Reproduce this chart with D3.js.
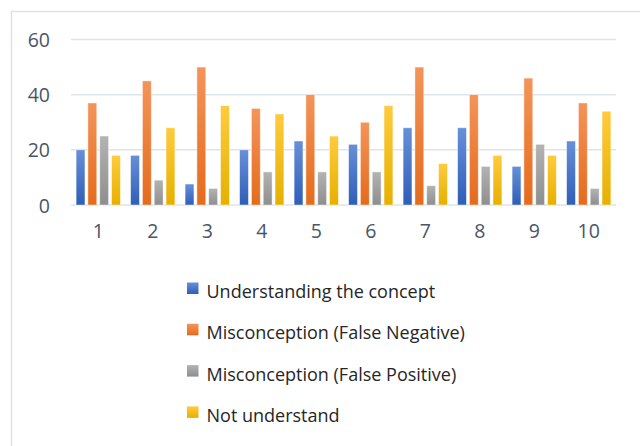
<!DOCTYPE html>
<html><head><meta charset="utf-8">
<script src="https://cdn.jsdelivr.net/npm/d3@7"></script>
<style>
html,body{margin:0;padding:0;background:#fff;}
svg{display:block;}
</style></head>
<body>
<script>
const categories = ["1","2","3","4","5","6","7","8","9","10"];
const seriesNames = ["Understanding the concept","Misconception (False Negative)","Misconception (False Positive)","Not understand"];
const understanding = [20,18,7.6,20,23.2,22,28,28,14,23.2];
const falseNegative = [37,45,50,35,40,30,50,40,46,37];
const falsePositive = [25,9,6,12,12,12,7,14,22,6];
const notUnderstand = [18,28,36,33,25,36,15,18,18,34];
const yTicks = [0,20,40,60];

const seriesValues = [understanding,falseNegative,falsePositive,notUnderstand];
const colors = [
  {top:"#6790d8", bot:"#2f5eb8"},
  {top:"#f4945a", bot:"#e56b1c"},
  {top:"#b3b3b3", bot:"#8e8e8e"},
  {top:"#ffcb3d", bot:"#e6b000"}
];

const W=640,H=446;
const svg=d3.select("body").append("svg").attr("width",W).attr("height",H);
const defs=svg.append("defs");
colors.forEach((c,i)=>{
  const g=defs.append("linearGradient").attr("id","g"+i).attr("x1",0).attr("y1",0).attr("x2",0).attr("y2",1);
  g.append("stop").attr("offset","0%").attr("stop-color",c.top);
  g.append("stop").attr("offset","100%").attr("stop-color",c.bot);
});

// chart border
svg.append("rect").attr("x",11.5).attr("y",11.5).attr("width",W).attr("height",H)
  .attr("fill","none").attr("stroke","#dde2ea").attr("stroke-width",1.5);

const y=d3.scaleLinear().domain([0,60]).range([205,39.5]);
const x0=d3.scaleBand().domain(categories).range([71,616]).paddingInner(0.187).paddingOuter(0.0935);
const x1=d3.scaleBand().domain(d3.range(4)).range([0,x0.bandwidth()]).paddingInner(0.25).paddingOuter(0);

// gridlines
svg.append("g").selectAll("line").data(yTicks).join("line")
  .attr("x1",71).attr("x2",616).attr("y1",d=>y(d)).attr("y2",d=>y(d))
  .attr("stroke","#dfe3ea").attr("stroke-width",1.5);

// y axis labels
const yAxis=d3.axisLeft(y).tickValues(yTicks).tickSize(0).tickPadding(0);
const ya=svg.append("g").attr("transform","translate(50,0)").call(yAxis);
ya.select(".domain").remove();
ya.selectAll("text").attr("font-family","'Open Sans',sans-serif").attr("font-size",19.5)
  .attr("fill","#4a5567").attr("dy","0.36em");

// x axis labels
const xAxis=d3.axisBottom(x0).tickSize(0).tickPadding(0);
const xa=svg.append("g").attr("transform","translate(0,224)").call(xAxis);
xa.select(".domain").remove();
xa.selectAll("text").attr("font-family","'Open Sans',sans-serif").attr("font-size",19.5)
  .attr("fill","#4a5567").attr("dy","0.71em");

// bars
const groups=svg.append("g").selectAll("g").data(categories).join("g")
  .attr("transform",d=>`translate(${x0(d)},0)`);
groups.selectAll("rect").data((d,ci)=>seriesValues.map((vals,si)=>({si,v:vals[ci]}))).join("rect")
  .attr("x",d=>x1(d.si)).attr("width",x1.bandwidth())
  .attr("y",d=>y(d.v)).attr("height",d=>y(0)-y(d.v))
  .attr("fill",d=>`url(#g${d.si})`)
  .attr("stroke","rgba(255,255,255,0.55)").attr("stroke-width",0.8);

// legend
const leg=svg.append("g").selectAll("g").data(seriesNames).join("g")
  .attr("transform",(d,i)=>`translate(187,${291.5+i*41.3})`);
leg.append("rect").attr("x",0).attr("y",-9).attr("width",11.5).attr("height",11.5)
  .attr("fill",(d,i)=>`url(#g${i})`);
leg.append("text").attr("x",19.5).attr("y",0).attr("dy","0.36em")
  .attr("font-family","'Open Sans',sans-serif").attr("font-size",18)
  .attr("fill","#262626").text(d=>d);
</script>
</body></html>
